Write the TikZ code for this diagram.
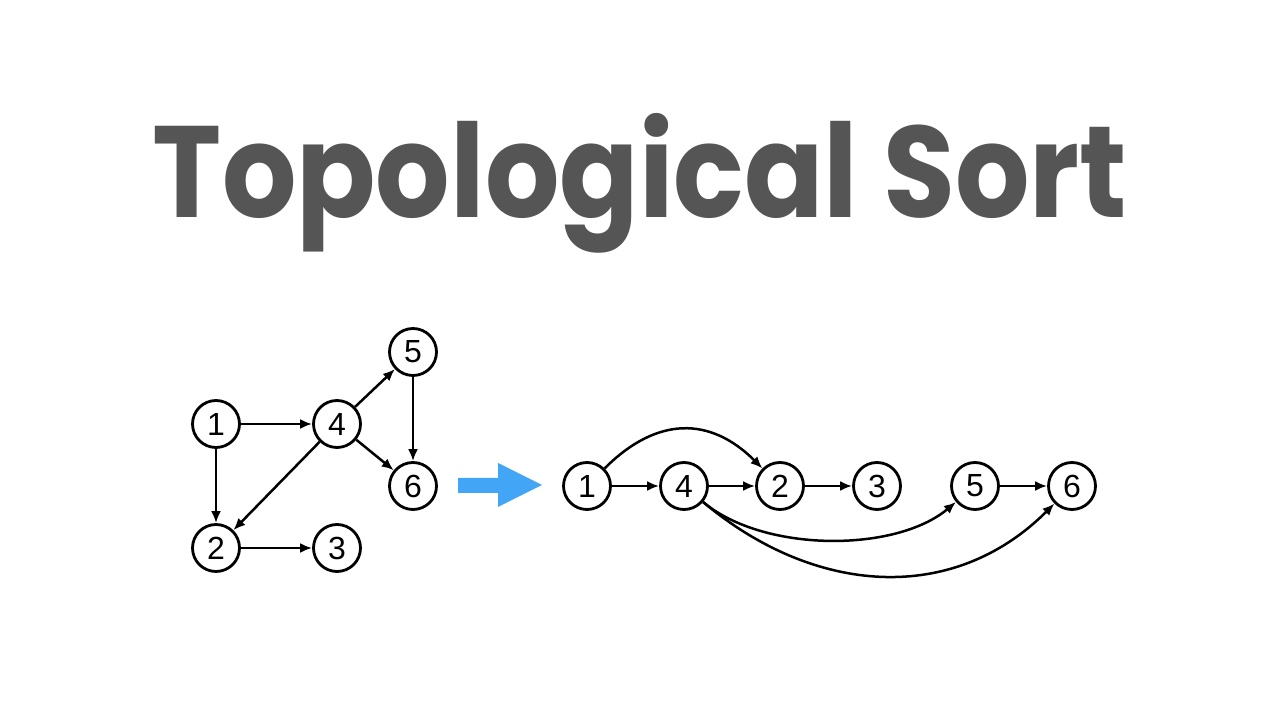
\documentclass[tikz,border=0pt]{standalone}
\usepackage{fontspec}
\setmainfont{Liberation Sans}
\newfontfamily\titlefont{Poppins}
\usetikzlibrary{arrows.meta}
\definecolor{titlegray}{HTML}{555555}
\definecolor{arrowblue}{HTML}{42A5F5}
\tikzset{
    vertex/.style={draw=black, line width=2.8pt, circle, minimum size=47pt, inner sep=0pt, font=\fontsize{32}{32}\selectfont},
    edge/.style={line width=2.5pt, -{Latex[length=12pt,width=10pt]}}
}
\begin{document}
\begin{tikzpicture}[x=1pt,y=1pt]
        \useasboundingbox (0, 0) rectangle (1280, 720);
        \fill[white] (0, 0) rectangle (1280, 720);
        \node[anchor=base, text=titlegray, font=\titlefont\bfseries\fontsize{130}{130}\selectfont] (title) at (640, 502) {\scalebox{0.9}[1]{Topological Sort}};
        % graph before sorting
        \node[vertex] (l1) at (216, 296) {1};
        \node[vertex] (l4) at (337, 296) {4};
        \node[vertex] (l5) at (413, 368) {5};
        \node[vertex] (l6) at (413, 234) {6};
        \node[vertex] (l2) at (216, 172) {2};
        \node[vertex] (l3) at (337, 172) {3};
        \draw[edge] (l1) -- (l4);
        \draw[edge] (l1) -- (l2);
        \draw[edge] (l4) -- (l5);
        \draw[edge] (l4) -- (l6);
        \draw[edge] (l4) -- (l2);
        \draw[edge] (l5) -- (l6);
        \draw[edge] (l2) -- (l3);
        % blue arrow
        \fill[arrowblue] (458, 227) -- (498, 227) -- (498, 213) -- (542, 235) -- (498, 257) -- (498, 242) -- (458, 242) -- cycle;
        % sorted order
        \foreach \v/\x in {1/587, 4/684, 2/780, 3/877, 5/975, 6/1072}
            \node[vertex] (r\v) at (\x, 234) {\v};
        \draw[edge] (r1) -- (r4);
        \draw[edge] (r4) -- (r2);
        \draw[edge] (r2) -- (r3);
        \draw[edge] (r5) -- (r6);
        \draw[edge] (r1) to[out=45, in=135, looseness=1.2] (r2);
        \draw[edge] (r4) to[out=-40, in=-140, looseness=0.8] (r5);
        \draw[edge] (r4) to[out=-40, in=-135, looseness=1.05] (r6);
    \end{tikzpicture}
\end{document}
